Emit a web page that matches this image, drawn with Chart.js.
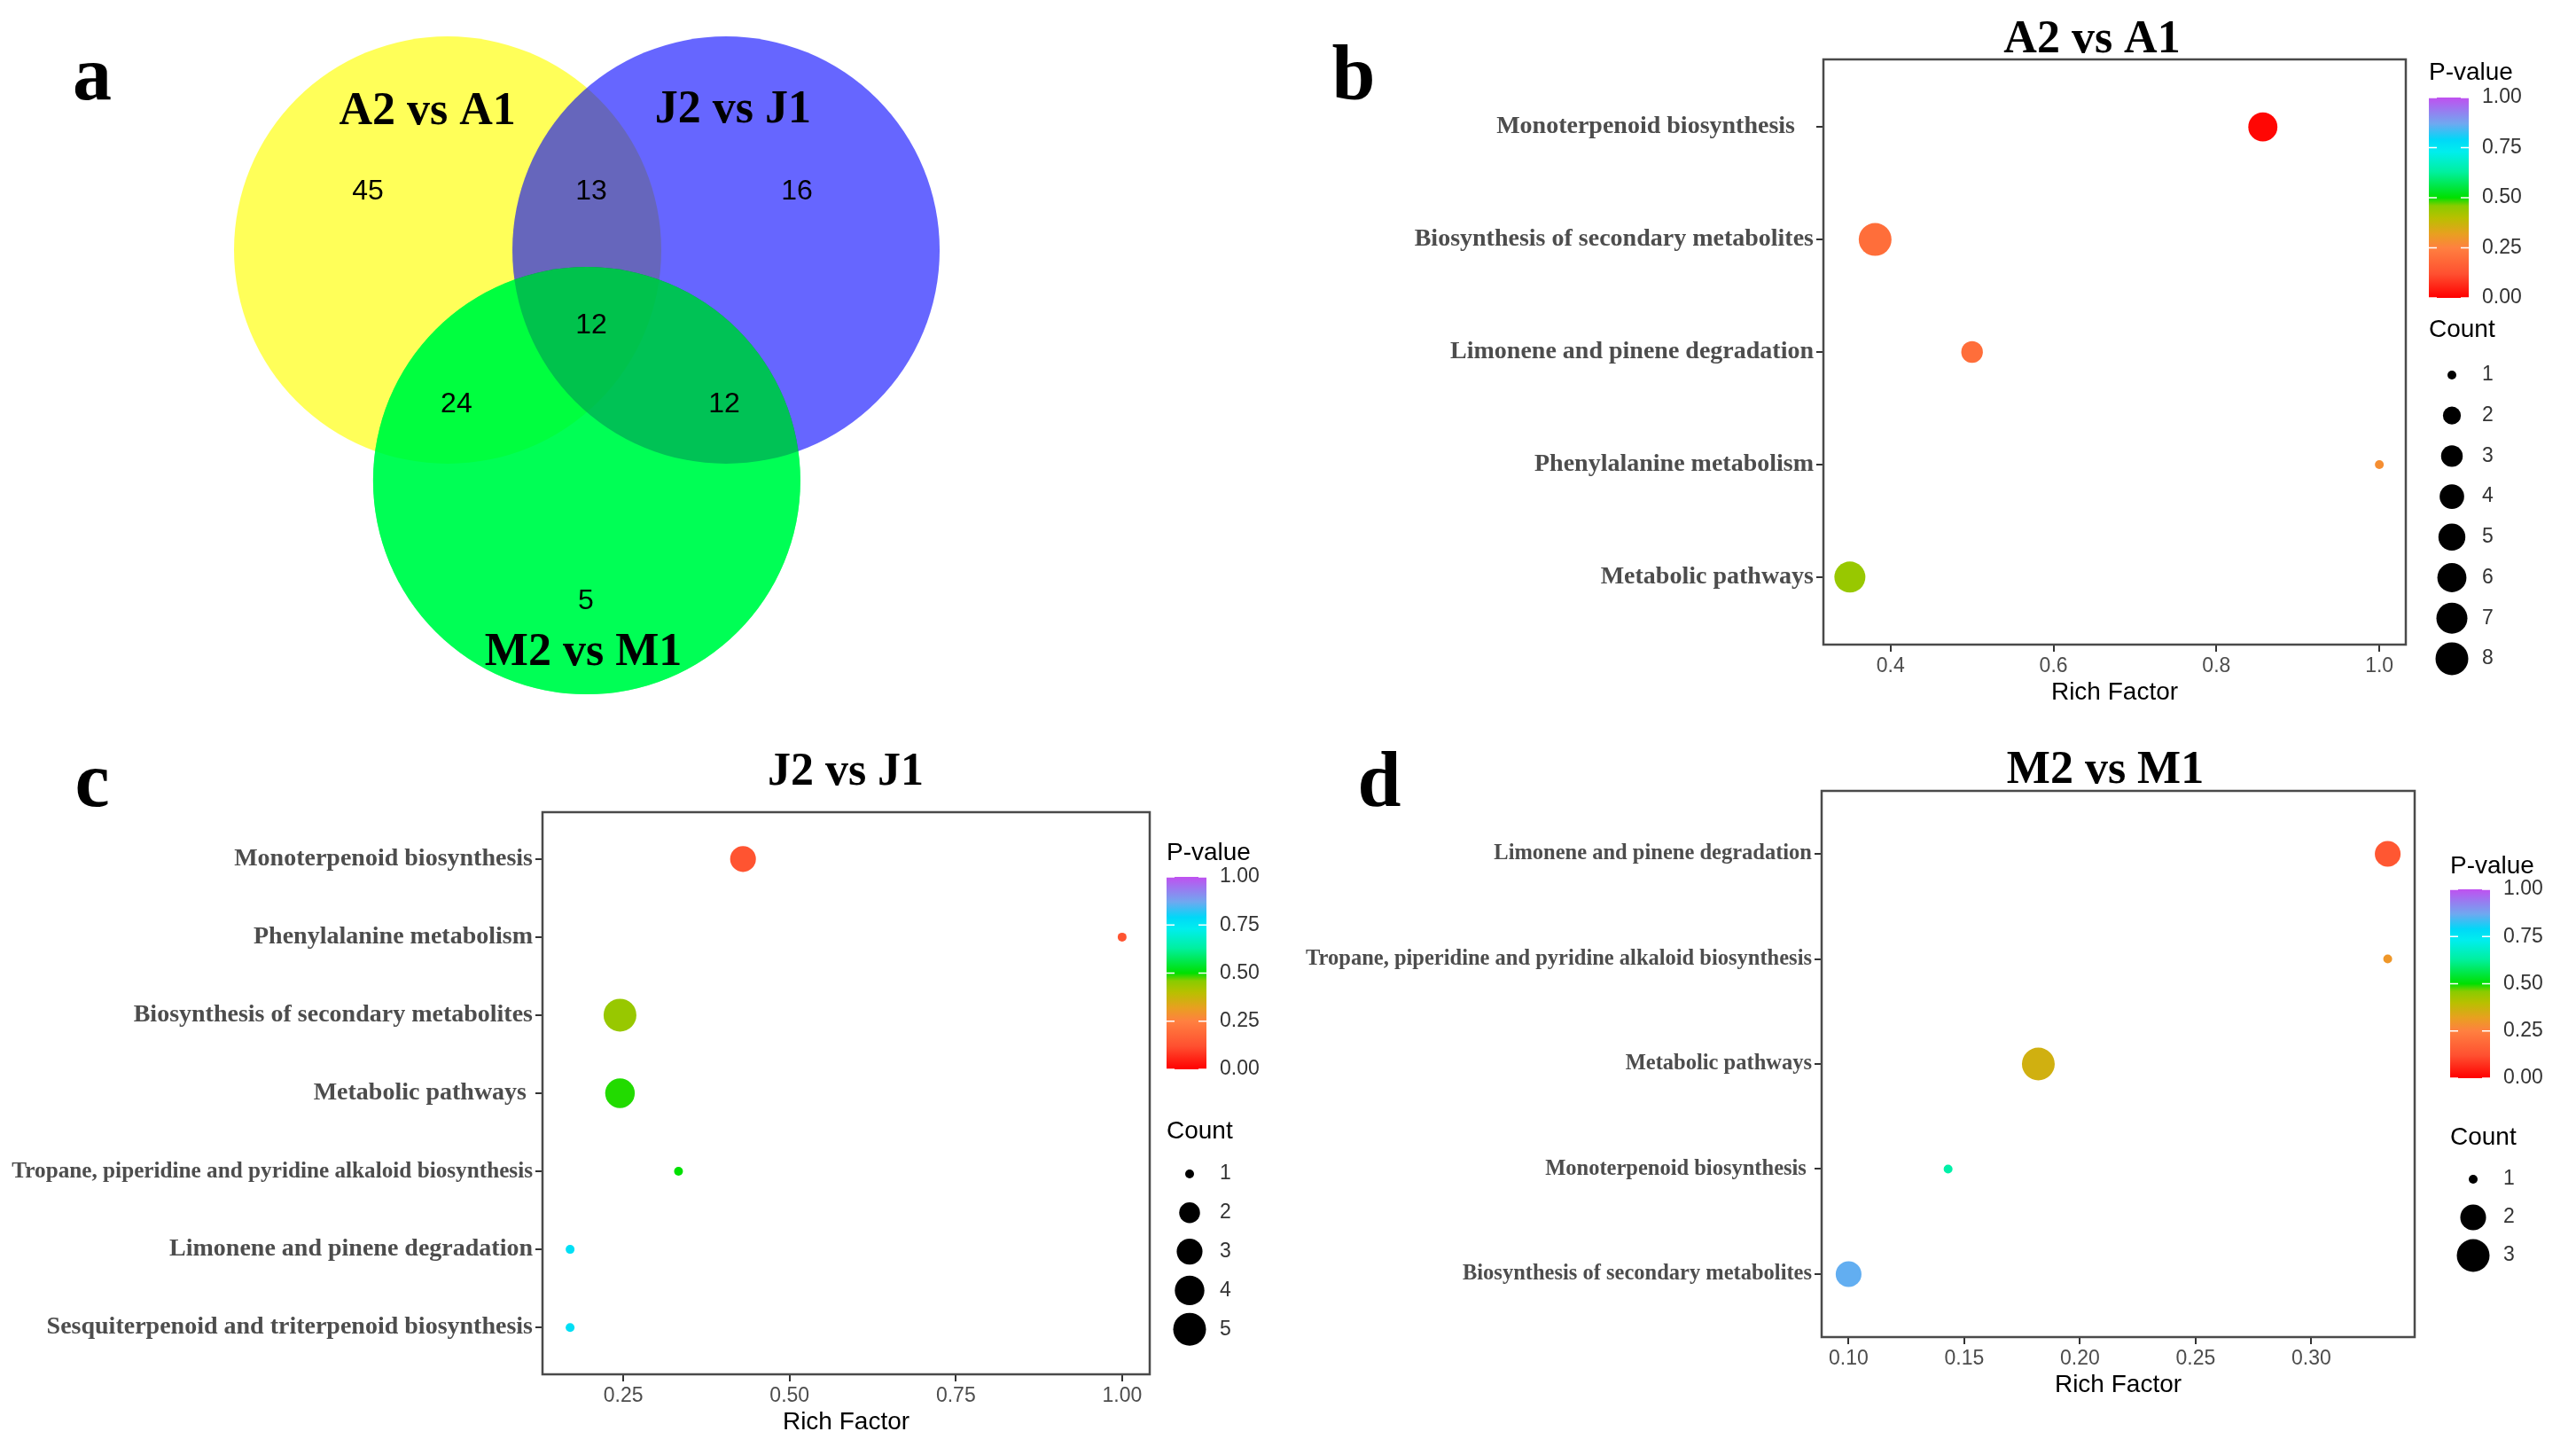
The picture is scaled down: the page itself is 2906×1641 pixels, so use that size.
<!DOCTYPE html>
<html>
<head>
<meta charset="utf-8">
<script src="https://cdn.jsdelivr.net/npm/chart.js@4.4.1/dist/chart.umd.min.js"></script>
<style>
  html, body { margin: 0; padding: 0; background: #fff; }
  #wrap { position: relative; width: 2906px; height: 1641px; overflow: hidden; }
  #wrap canvas { position: absolute; left: 0; top: 0; }
</style>
</head>
<body>
<div id="wrap">
  <canvas id="venn" width="2906" height="1641"></canvas>
  <canvas id="dotB" width="2906" height="1641"></canvas>
  <canvas id="dotC" width="2906" height="1641"></canvas>
  <canvas id="dotD" width="2906" height="1641"></canvas>
</div>
<script>
// ---- data ----
const vennSets = ['A2 vs A1', 'J2 vs J1', 'M2 vs M1'];
// A only, A&J, J only, A&J&M, A&M, J&M, M only
const vennCounts = [45, 13, 16, 12, 24, 12, 5];

const bTerms = ['Monoterpenoid biosynthesis   ', 'Biosynthesis of secondary metabolites',
  'Limonene and pinene degradation', 'Phenylalanine metabolism', 'Metabolic pathways'];
const bRich = [0.857, 0.381, 0.5, 1.0, 0.35];
const bPval = [0.01, 0.2, 0.2, 0.28, 0.44];
const bCount = [6, 8, 3, 1, 7];

const cTerms = ['Monoterpenoid biosynthesis', 'Phenylalanine metabolism',
  'Biosynthesis of secondary metabolites', 'Metabolic pathways ',
  'Tropane, piperidine and pyridine alkaloid biosynthesis', 'Limonene and pinene degradation',
  'Sesquiterpenoid and triterpenoid biosynthesis'];
const cRich = [0.43, 1.0, 0.245, 0.245, 0.333, 0.17, 0.17];
const cPval = [0.13, 0.13, 0.44, 0.49, 0.5, 0.77, 0.77];
const cCount = [3, 1, 5, 4, 1, 1, 1];

const dTerms = ['Limonene and pinene degradation',
  'Tropane, piperidine and pyridine alkaloid biosynthesis', 'Metabolic pathways',
  'Monoterpenoid biosynthesis ', 'Biosynthesis of secondary metabolites'];
const dRich = [0.333, 0.333, 0.182, 0.143, 0.1];
const dPval = [0.14, 0.3, 0.36, 0.64, 0.86];
const dCount = [2, 1, 3, 1, 2];

const bTicks = [0.4, 0.6, 0.8, 1.0];
const cTicks = [0.25, 0.5, 0.75, 1.0];
const dTicks = [0.1, 0.15, 0.2, 0.25, 0.3];
const pBreaks = [0, 0.25, 0.5, 0.75, 1];

// colour scale for P-value
const pStops = [0, 0.12, 0.25, 0.32, 0.4, 0.46, 0.5, 0.63, 0.73, 0.79, 0.87, 1];
const pColors = ['#ff0000', '#ff5030', '#ff8040', '#e8a020', '#b8c000', '#88cc00',
  '#00e000', '#00f0a0', '#00eeee', '#00d8f8', '#70a8f0', '#c050f0'];

// ---- look ----
const W = 2906, H = 1641;
const SANS = '"Liberation Sans", Arial, sans-serif';
const SERIF = '"Liberation Serif", "Times New Roman", serif';
const R_MIN = 5, R_MAX = 18.5;
const BAR_W = 45;
const AXIS_H = 76;
const MAX_LABEL_W = 588;

Chart.defaults.animation = false;

const measureCtx = document.createElement('canvas').getContext('2d');
function labelSize(text, base) {
  measureCtx.font = `bold ${base}px ${SERIF}`;
  const w = measureCtx.measureText(text).width;
  return w > MAX_LABEL_W ? base * MAX_LABEL_W / w : base;
}

function hexRgb(h) {
  return [1, 3, 5].map(i => parseInt(h.slice(i, i + 2), 16));
}
function pColor(p) {
  for (let i = 1; i < pStops.length; i++) {
    if (p <= pStops[i]) {
      const t = (p - pStops[i - 1]) / (pStops[i] - pStops[i - 1]);
      const a = hexRgb(pColors[i - 1]), b = hexRgb(pColors[i]);
      const c = a.map((v, k) => Math.round(v + (b[k] - v) * t));
      return `rgb(${c[0]},${c[1]},${c[2]})`;
    }
  }
  return pColors[pColors.length - 1];
}
function sizeScale(counts) {
  const lo = Math.min(...counts), hi = Math.max(...counts);
  return c => R_MIN + (R_MAX - R_MIN) * Math.sqrt((c - lo) / (hi - lo));
}

// ---- panel a: venn ----
const VENN = { cx: 505, cy: 282, r: 241, w: 1453, h: 820 };
const vennCircleX = [0, 1.303, 0.651];
const vennCircleY = [0, 0, 1.079];
const vennCountX = [-0.373, 0.672, 1.635, 0.672, 0.041, 1.295, 0.647];
const vennCountY = [-0.274, -0.274, -0.274, 0.353, 0.722, 0.722, 1.643];
const vennNameX = [-0.095, 1.336, 0.635];
const vennNameY = [-0.589, -0.598, 1.942];

const unitPx = chart => chart.scales.x.getPixelForValue(1) - chart.scales.x.getPixelForValue(0);

function circleSet(i, color, order, blend) {
  return {
    label: vennSets[i],
    data: [{ x: vennCircleX[i], y: vennCircleY[i] }],
    pointRadius: c => unitPx(c.chart),
    pointHoverRadius: c => unitPx(c.chart),
    pointBackgroundColor: color,
    pointBorderWidth: 0,
    clip: false,
    order: order,
    blend: blend
  };
}

const vennPlugin = {
  id: 'vennDecor',
  beforeDraw(chart) {
    const ctx = chart.ctx;
    ctx.save();
    ctx.fillStyle = '#fff';
    ctx.fillRect(0, 0, chart.width, chart.height);
    ctx.restore();
  },
  beforeDatasetDraw(chart, args) {
    const ds = chart.data.datasets[args.index];
    if (ds.blend) {
      chart.ctx.save();
      chart.ctx.globalCompositeOperation = ds.blend;
    }
  },
  afterDatasetDraw(chart, args) {
    if (chart.data.datasets[args.index].blend) chart.ctx.restore();
  },
  afterDatasetsDraw(chart) {
    const ctx = chart.ctx;
    ctx.save();
    ctx.fillStyle = '#000';
    ctx.textAlign = 'center';
    chart.data.datasets.forEach((ds, i) => {
      if (!ds.textFont) return;
      ctx.font = ds.textFont;
      ctx.textBaseline = ds.textBaseline;
      chart.getDatasetMeta(i).data.forEach((pt, k) => {
        ctx.fillText(ds.data[k].text, pt.x, pt.y);
      });
    });
    ctx.font = 'bold 88px ' + SERIF;
    ctx.textBaseline = 'alphabetic';
    ctx.fillText('a', 104, 112);
    ctx.restore();
  }
};

new Chart(document.getElementById('venn'), {
  type: 'scatter',
  data: {
    datasets: [
      circleSet(0, 'rgba(255,255,0,0.65)', 5),
      circleSet(1, 'rgba(0,0,255,0.6)', 4),
      circleSet(2, 'rgb(0,255,85)', 3, 'multiply'),
      circleSet(2, 'rgba(0,255,85,0.6)', 2),
      {
        label: 'counts',
        data: vennCounts.map((n, i) => ({ x: vennCountX[i], y: vennCountY[i], text: String(n) })),
        pointRadius: 0, pointHoverRadius: 0, clip: false, order: 1,
        textFont: '32px ' + SANS, textBaseline: 'middle'
      },
      {
        label: 'names',
        data: vennSets.map((s, i) => ({ x: vennNameX[i], y: vennNameY[i], text: s })),
        pointRadius: 0, pointHoverRadius: 0, clip: false, order: 1,
        textFont: 'bold 52px ' + SERIF, textBaseline: 'alphabetic'
      }
    ]
  },
  options: {
    responsive: false,
    events: [],
    layout: { padding: { left: 0, top: 0, right: W - VENN.w, bottom: H - VENN.h } },
    plugins: { legend: { display: false }, tooltip: { enabled: false } },
    scales: {
      x: { type: 'linear', display: false, min: -VENN.cx / VENN.r, max: (VENN.w - VENN.cx) / VENN.r },
      y: { type: 'linear', display: false, reverse: true, min: -VENN.cy / VENN.r, max: (VENN.h - VENN.cy) / VENN.r }
    }
  },
  plugins: [vennPlugin]
});

// ---- panels b, c, d: enrichment dot plots ----
function decorPlugin(opt, counts, rOf) {
  return {
    id: 'panelDecor',
    afterDraw(chart) {
      const ctx = chart.ctx, a = chart.chartArea, lg = opt.legend;
      ctx.save();
      ctx.strokeStyle = '#4a4a4a';
      ctx.lineWidth = 2.5;
      ctx.strokeRect(a.left, a.top, a.right - a.left, a.bottom - a.top);

      ctx.fillStyle = '#000';
      ctx.textAlign = 'center';
      ctx.textBaseline = 'alphabetic';
      ctx.font = 'bold 52px ' + SERIF;
      ctx.fillText(opt.title, opt.titleX, opt.titleY);
      ctx.font = 'bold 88px ' + SERIF;
      ctx.fillText(opt.letter, opt.letterX, opt.letterY);

      // colour bar
      ctx.textAlign = 'left';
      ctx.textBaseline = 'middle';
      ctx.font = '28px ' + SANS;
      ctx.fillText('P-value', lg.x, lg.pTitleY);
      const grad = ctx.createLinearGradient(0, lg.barBottom, 0, lg.barTop);
      pStops.forEach((s, i) => grad.addColorStop(s, pColors[i]));
      ctx.fillStyle = grad;
      ctx.fillRect(lg.x, lg.barTop, BAR_W, lg.barBottom - lg.barTop);
      ctx.strokeStyle = '#fff';
      ctx.lineWidth = 1.5;
      ctx.font = '23px ' + SANS;
      ctx.fillStyle = '#333';
      pBreaks.forEach(p => {
        const y = lg.barBottom - p * (lg.barBottom - lg.barTop);
        ctx.beginPath();
        ctx.moveTo(lg.x, y); ctx.lineTo(lg.x + 9, y);
        ctx.moveTo(lg.x + BAR_W - 9, y); ctx.lineTo(lg.x + BAR_W, y);
        ctx.stroke();
        ctx.fillText(p.toFixed(2), lg.x + BAR_W + 15, y);
      });

      // size legend
      ctx.fillStyle = '#000';
      ctx.font = '28px ' + SANS;
      ctx.fillText('Count', lg.x, lg.countTitleY);
      const lo = Math.min(...counts), hi = Math.max(...counts);
      ctx.font = '23px ' + SANS;
      for (let c = lo; c <= hi; c++) {
        const y = lg.rowY0 + (c - lo) * lg.rowStep;
        ctx.fillStyle = '#000';
        ctx.beginPath();
        ctx.arc(lg.x + 26, y, rOf(c), 0, Math.PI * 2);
        ctx.fill();
        ctx.fillStyle = '#333';
        ctx.fillText(String(c), lg.x + 60, y);
      }
      ctx.restore();
    }
  };
}

function makeDotChart(id, terms, rich, pval, count, xTicks, digits, opt) {
  const lo = Math.min(...rich), hi = Math.max(...rich), span = hi - lo;
  const rOf = sizeScale(count);
  const points = terms.map((t, i) => ({ x: rich[i], y: i + 1, p: pval[i], count: count[i] }));
  const gridStyle = { drawOnChartArea: false, drawTicks: true, tickLength: 8, color: '#333', lineWidth: 2 };
  return new Chart(document.getElementById(id), {
    type: 'scatter',
    data: {
      datasets: [{
        data: points,
        pointRadius: c => rOf(c.raw.count),
        pointHoverRadius: c => rOf(c.raw.count),
        pointBackgroundColor: c => pColor(c.raw.p),
        pointBorderWidth: 0,
        clip: false
      }]
    },
    options: {
      responsive: false,
      events: [],
      layout: { padding: { left: 0, top: opt.box.T, right: W - opt.box.R, bottom: H - opt.box.B - AXIS_H } },
      plugins: { legend: { display: false }, tooltip: { enabled: false } },
      scales: {
        x: {
          type: 'linear',
          min: lo - 0.05 * span,
          max: hi + 0.05 * span,
          afterBuildTicks: s => { s.ticks = xTicks.map(v => ({ value: v })); },
          afterFit: s => { s.height = AXIS_H; },
          grid: gridStyle,
          border: { display: false },
          ticks: {
            callback: v => v.toFixed(digits),
            font: { family: SANS, size: 23 },
            color: '#4d4d4d', padding: 3, maxRotation: 0, autoSkip: false
          },
          title: {
            display: true, text: 'Rich Factor',
            font: { family: SANS, size: 28 }, color: '#000',
            padding: { top: 0, bottom: 5 }
          }
        },
        y: {
          type: 'linear',
          reverse: true,
          min: 0.4,
          max: terms.length + 0.6,
          afterBuildTicks: s => { s.ticks = terms.map((t, i) => ({ value: i + 1 })); },
          afterFit: s => { s.width = opt.box.L; },
          grid: gridStyle,
          border: { display: false },
          ticks: {
            callback: v => terms[v - 1],
            font: c => {
              const term = c && c.tick ? terms[Math.round(c.tick.value) - 1] : null;
              return {
                family: SERIF, weight: 'bold',
                size: term ? labelSize(term, opt.labelSize) : opt.labelSize
              };
            },
            color: '#4d4d4d', padding: 3, autoSkip: false
          }
        }
      }
    },
    plugins: [decorPlugin(opt, count, rOf)]
  });
}

makeDotChart('dotB', bTerms, bRich, bPval, bCount, bTicks, 1, {
  box: { L: 2057, R: 2714, T: 67, B: 727 }, labelSize: 28,
  title: 'A2 vs A1', titleX: 2360, titleY: 59,
  letter: 'b', letterX: 1527, letterY: 112,
  legend: { x: 2740, pTitleY: 82, barTop: 110, barBottom: 336, countTitleY: 372, rowY0: 423, rowStep: 45.7 }
});

makeDotChart('dotC', cTerms, cRich, cPval, cCount, cTicks, 2, {
  box: { L: 612, R: 1297, T: 916, B: 1550 }, labelSize: 28,
  title: 'J2 vs J1', titleX: 954, titleY: 885,
  letter: 'c', letterX: 104, letterY: 909,
  legend: { x: 1316, pTitleY: 962, barTop: 989, barBottom: 1206, countTitleY: 1276, rowY0: 1324, rowStep: 43.8 }
});

makeDotChart('dotD', dTerms, dRich, dPval, dCount, dTicks, 2, {
  box: { L: 2055, R: 2724, T: 892, B: 1508 }, labelSize: 24.5,
  title: 'M2 vs M1', titleX: 2375, titleY: 883,
  letter: 'd', letterX: 1556, letterY: 909,
  legend: { x: 2764, pTitleY: 977, barTop: 1003, barBottom: 1216, countTitleY: 1283, rowY0: 1330, rowStep: 43 }
});
</script>
</body>
</html>
